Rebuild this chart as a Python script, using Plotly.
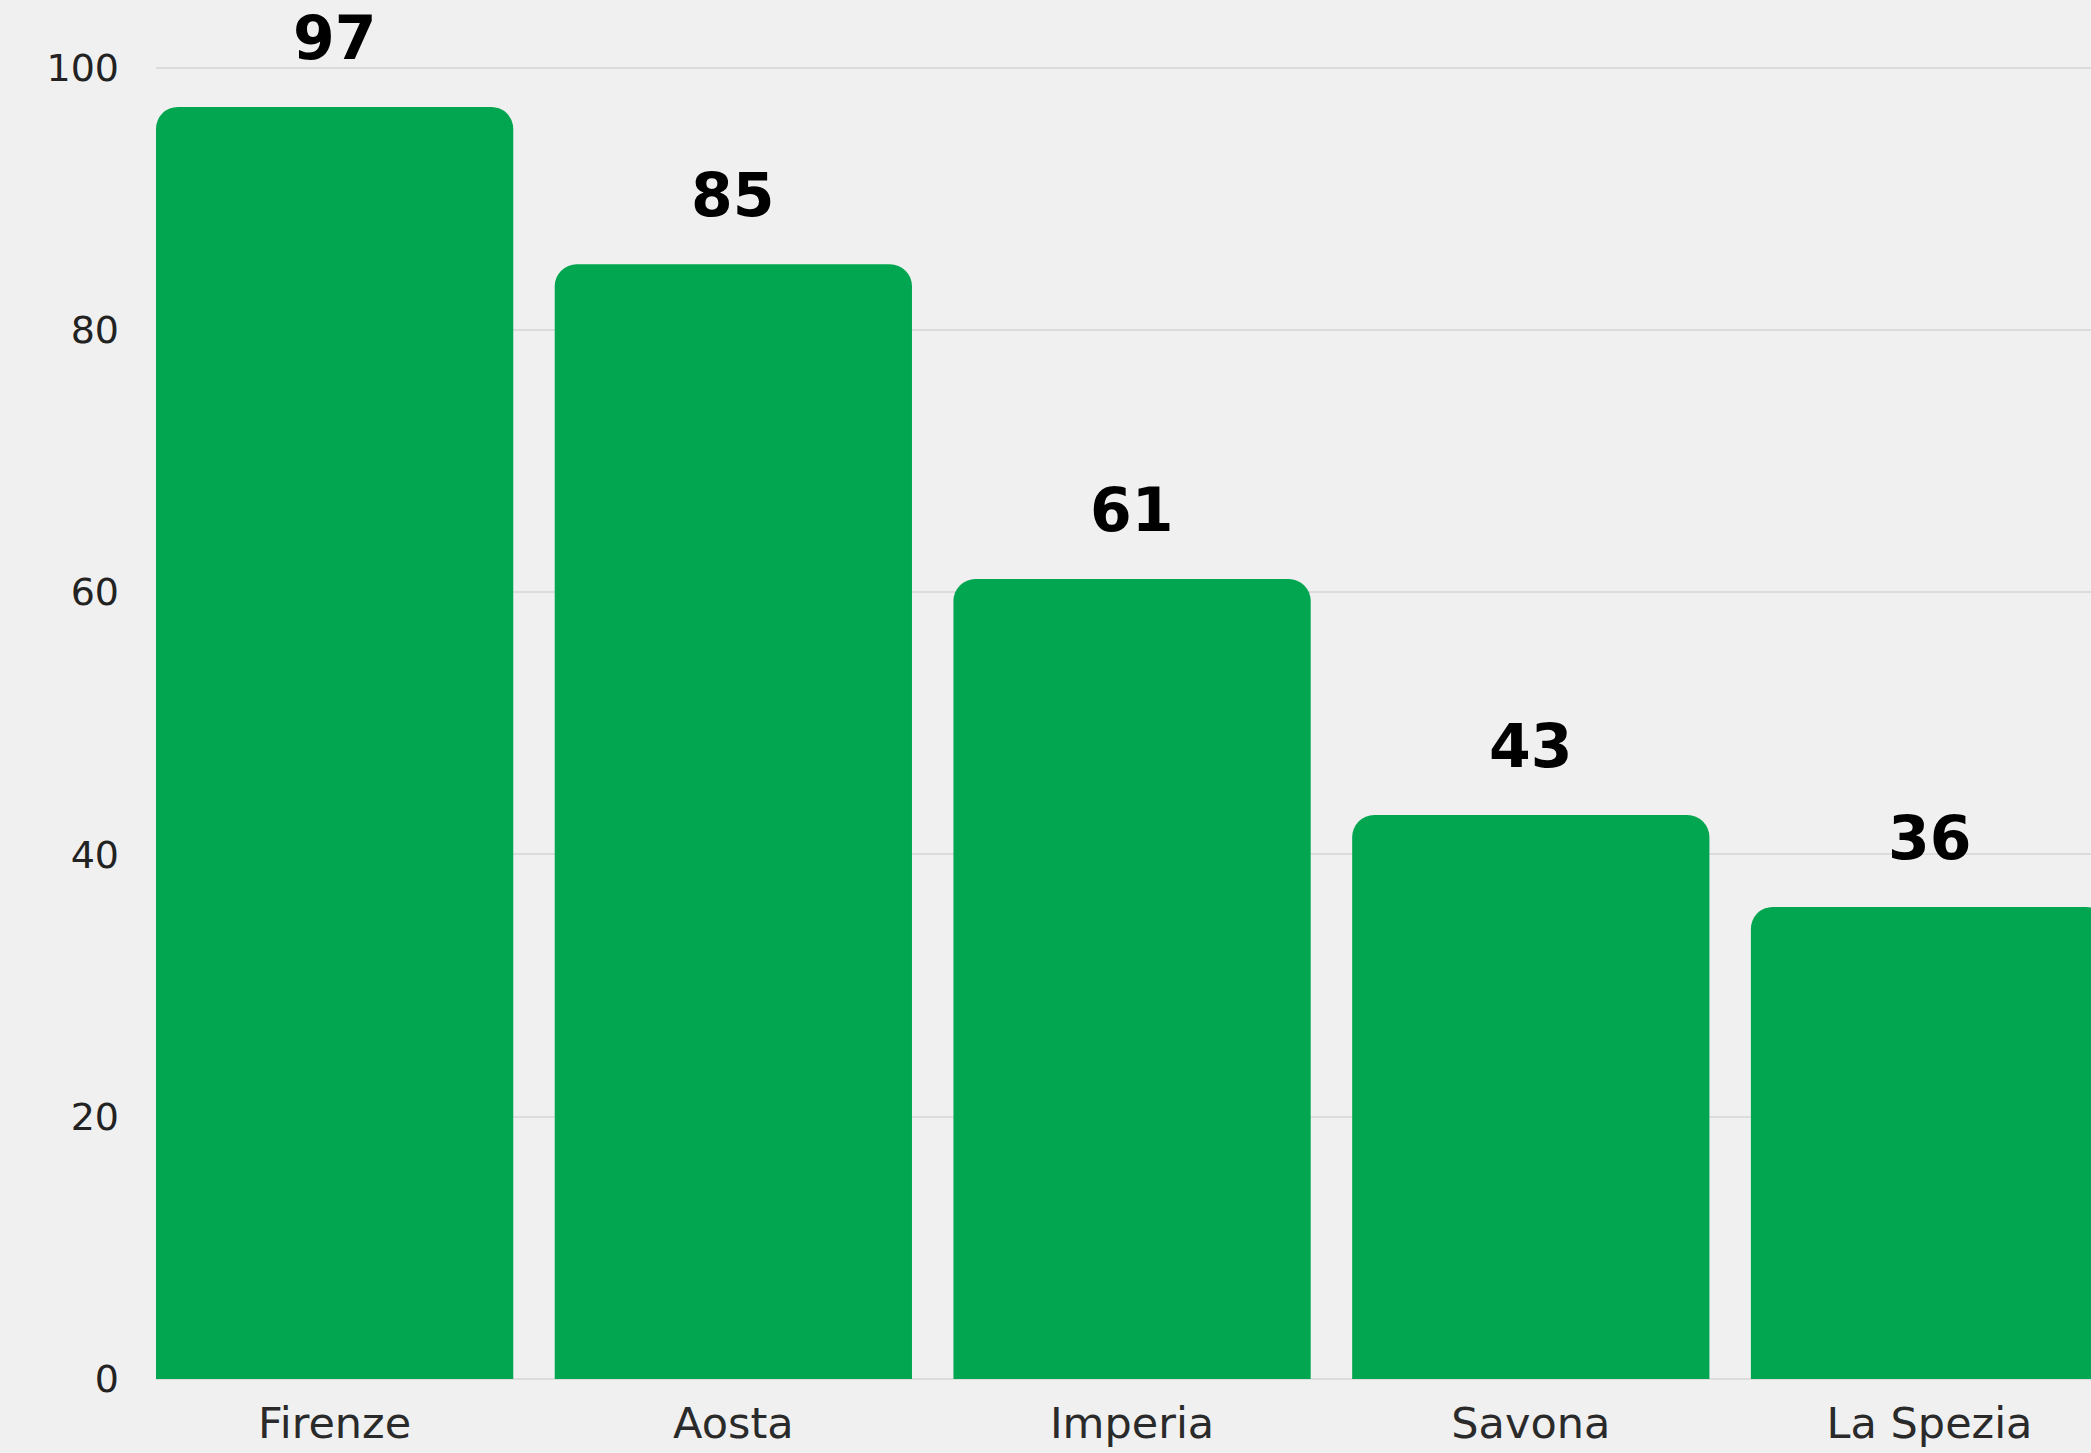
import plotly.graph_objects as go

categories = ["Firenze", "Aosta", "Imperia", "Savona", "La Spezia"]
values = [97, 85, 61, 43, 36]
y_ticks = [0, 20, 40, 60, 80, 100]

BAR_COLOR = "#03A650"
BG = "#F0F0F0"

fig = go.Figure()
fig.add_trace(go.Bar(
    x=list(range(len(categories))),
    y=values,
    marker=dict(color=BAR_COLOR, line=dict(width=0), cornerradius=22),
    hoverinfo="skip",
))

for i, v in enumerate(values):
    fig.add_annotation(
        x=i, y=v, text=str(v), showarrow=False,
        yanchor="middle", yshift=69,
        font=dict(family="DejaVu Sans", size=60, color="#000000", weight="bold"),
    )

fig.update_layout(
    width=2091, height=1453,
    paper_bgcolor=BG, plot_bgcolor=BG,
    margin=dict(l=156, r=0, t=2, b=74),
    bargap=0.104,
    showlegend=False,
    xaxis=dict(
        range=[-0.448, 4.405],
        tickmode="array",
        tickvals=list(range(len(categories))),
        ticktext=categories,
        showgrid=False, zeroline=False, showline=False,
        tickfont=dict(family="DejaVu Sans", size=43, color="#2a2a2a"),
        ticks="outside", ticklen=6, tickcolor="rgba(0,0,0,0)",
    ),
    yaxis=dict(
        range=[0, 105],
        tickmode="array",
        tickvals=y_ticks,
        ticktext=[str(t) for t in y_ticks],
        showgrid=True, gridcolor="#DCDCDC", gridwidth=2,
        zeroline=True, zerolinecolor="#DCDCDC", zerolinewidth=2,
        showline=False,
        tickfont=dict(family="DejaVu Sans", size=38, color="#222222"),
        ticklabelstandoff=36,
    ),
)

fig.write_html(
    "out.html",
    config={"displayModeBar": False},
    post_script="document.body.style.margin='0';document.body.style.background='#F0F0F0';",
)
